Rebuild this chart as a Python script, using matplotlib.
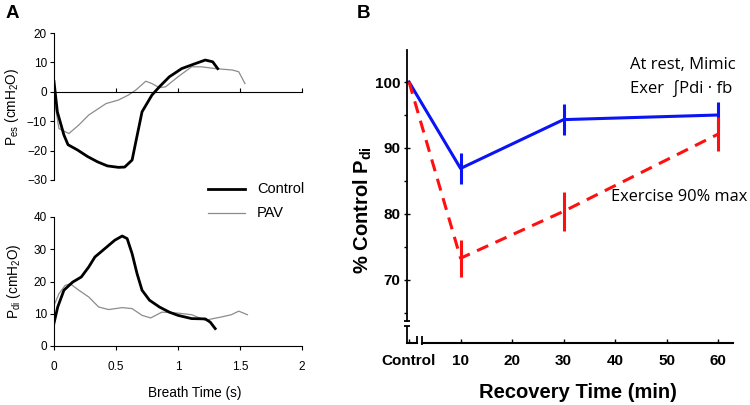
import matplotlib
matplotlib.use("Agg")
import matplotlib.pyplot as plt
from matplotlib.lines import Line2D
import numpy as np

# ---------------- Data ----------------
# Panel A, top: Pes (cmH2O) vs breath time (s)
pes_ctrl_t = [0.0, 0.027, 0.08, 0.113, 0.19, 0.27, 0.35, 0.43, 0.52, 0.57, 0.63, 0.66, 0.71, 0.79, 0.85, 0.93, 1.03, 1.14, 1.22, 1.28, 1.32]
pes_ctrl_v = [3.5, -6.8, -14.7, -18.0, -19.8, -22.0, -23.8, -25.2, -25.7, -25.6, -23.2, -17.0, -6.8, -1.1, 1.7, 5.1, 7.9, 9.6, 10.8, 10.2, 7.9]
pes_pav_t = [0.0, 0.04, 0.12, 0.2, 0.28, 0.42, 0.52, 0.6, 0.66, 0.74, 0.79, 0.85, 0.9, 1.0, 1.11, 1.19, 1.3, 1.44, 1.49, 1.54]
pes_pav_v = [-2.3, -12.5, -14.2, -11.3, -7.9, -4.0, -2.8, -1.1, 0.6, 3.6, 2.8, 1.4, 1.7, 5.1, 8.5, 8.5, 7.9, 7.4, 6.8, 2.8]

# Panel A, bottom: Pdi (cmH2O) vs breath time (s)
pdi_ctrl_t = [0.0, 0.03, 0.08, 0.15, 0.22, 0.28, 0.33, 0.41, 0.49, 0.55, 0.59, 0.63, 0.67, 0.71, 0.77, 0.85, 0.93, 1.0, 1.11, 1.22, 1.26, 1.3]
pdi_ctrl_v = [7.1, 12.1, 17.3, 19.8, 21.4, 24.5, 27.6, 30.2, 32.8, 34.1, 33.3, 28.6, 22.4, 17.3, 14.2, 12.1, 10.5, 9.5, 8.5, 8.4, 7.4, 5.4]
pdi_pav_t = [0.0, 0.04, 0.09, 0.13, 0.2, 0.28, 0.36, 0.44, 0.55, 0.63, 0.71, 0.78, 0.87, 1.0, 1.11, 1.22, 1.35, 1.43, 1.49, 1.56]
pdi_pav_v = [12.6, 16.2, 18.8, 19.3, 17.3, 15.2, 12.1, 11.3, 11.9, 11.6, 9.5, 8.7, 10.5, 10.2, 9.7, 8.0, 9.0, 9.7, 10.8, 9.7]

# Panel B: % control Pdi vs recovery time
rec_time = [0, 10, 30, 60]
rest_mean = [100.0, 86.9, 94.3, 95.0]
rest_err = [0.0, 2.3, 2.3, 2.0]
exer_mean = [100.0, 73.3, 80.4, 92.1]
exer_err = [0.0, 2.8, 3.0, 2.6]
b_xticks = [0, 10, 20, 30, 40, 50, 60]
b_xticklabels = ["Control", "10", "20", "30", "40", "50", "60"]
b_yticks = [70, 80, 90, 100]

# ---------------- Figure ----------------
W, H = 750, 405
fig = plt.figure(figsize=(7.5, 4.05), dpi=100)
plt.rcParams['font.family'] = ['Liberation Sans', 'DejaVu Sans']

def px(x0, y0, x1, y1):
    # pixel box (left, top, right, bottom) -> figure fraction rect
    return [x0 / W, 1 - y1 / H, (x1 - x0) / W, (y1 - y0) / H]

black = '#000000'
gray = '#8c8c8c'

# ---- Panel A top ----
axA1 = fig.add_axes(px(54, 33, 302, 180))
axA1.plot(pes_pav_t, pes_pav_v, color=gray, lw=0.9)
axA1.plot(pes_ctrl_t, pes_ctrl_v, color=black, lw=2.0)
axA1.set_xlim(0, 2)
axA1.set_ylim(-30, 20)
axA1.spines['top'].set_visible(False)
axA1.spines['right'].set_visible(False)
axA1.spines['bottom'].set_position(('data', 0))
axA1.spines['bottom'].set_linewidth(0.8)
axA1.spines['left'].set_linewidth(0.8)
axA1.set_xticks([0.5, 1.0, 1.5, 2.0])
axA1.tick_params(axis='x', direction='in', length=3, labelbottom=False)
axA1.set_yticks([-30, -20, -10, 0, 10, 20])
axA1.tick_params(axis='y', direction='out', length=3, labelsize=8.5, pad=2)
axA1.set_ylabel(r'P$_{\mathregular{es}}$ (cmH$_{\mathregular{2}}$O)', fontsize=9.8, labelpad=4)

# ---- Panel A bottom ----
axA2 = fig.add_axes(px(54, 217, 302, 346))
axA2.plot(pdi_pav_t, pdi_pav_v, color=gray, lw=0.9)
axA2.plot(pdi_ctrl_t, pdi_ctrl_v, color=black, lw=2.0)
axA2.set_xlim(0, 2)
axA2.set_ylim(0, 40)
axA2.spines['top'].set_visible(False)
axA2.spines['right'].set_visible(False)
axA2.spines['bottom'].set_linewidth(0.8)
axA2.spines['left'].set_linewidth(0.8)
axA2.set_xticks([0, 0.5, 1.0, 1.5, 2.0])
axA2.set_xticklabels(['0', '0.5', '1', '1.5', '2'])
axA2.set_yticks([0, 10, 20, 30, 40])
axA2.tick_params(direction='out', length=3, labelsize=8.5, pad=2)
axA2.tick_params(axis='x', pad=8)
axA2.set_ylabel(r'P$_{\mathregular{di}}$ (cmH$_{\mathregular{2}}$O)', fontsize=9.8, labelpad=8)
axA2.set_xlabel('Breath Time (s)', fontsize=9.8)
axA2.xaxis.set_label_coords((195 - 54) / 248, -(393 - 346) / 129 + 0.0)
axA2.xaxis.label.set_va('center')

# legend (figure coords)
fig.add_artist(Line2D([208 / W, 245 / W], [1 - 189 / H, 1 - 189 / H], color=black, lw=2.0))
fig.add_artist(Line2D([208 / W, 245 / W], [1 - 213 / H, 1 - 213 / H], color=gray, lw=0.9))
fig.text(257 / W, 1 - 189 / H, 'Control', fontsize=10.5, va='center', ha='left')
fig.text(257 / W, 1 - 213 / H, 'PAV', fontsize=10.5, va='center', ha='left')

fig.text(12 / W, 1 - 13 / H, 'A', fontsize=13.5, fontweight='bold', ha='center', va='center')
fig.text(364 / W, 1 - 13 / H, 'B', fontsize=13.5, fontweight='bold', ha='center', va='center')

# ---- Panel B ----
axB = fig.add_axes(px(407, 50, 733, 343))
ylo, yhi = 60.45, 104.85
xlo, xhi = -0.4, 62.9
axB.set_xlim(xlo, xhi)
axB.set_ylim(ylo, yhi)
for s in ['top', 'right']:
    axB.spines[s].set_visible(False)
axB.spines['left'].set_bounds(63.8, yhi)
axB.spines['left'].set_linewidth(1.3)
axB.spines['bottom'].set_bounds(2.5, xhi)
axB.spines['bottom'].set_linewidth(1.5)

# axis break pieces
kw = dict(color=black, lw=1.3, clip_on=False, solid_capstyle='butt')
axB.plot([xlo - 0.6, xlo + 0.6], [63.8, 63.8], **kw)
axB.plot([xlo - 0.6, xlo + 0.6], [63.0, 63.0], **kw)
axB.plot([xlo, xlo], [63.0, ylo], **kw)
axB.plot([xlo, 1.6], [ylo, ylo], color=black, lw=1.5, clip_on=False)
axB.plot([1.6, 1.6], [ylo, ylo + 1.0], **kw)
axB.plot([2.5, 2.5], [ylo - 0.3, ylo + 1.0], **kw)

blue = '#0a14f5'
red = '#ff1010'
axB.plot(rec_time, rest_mean, color=blue, lw=2.2, solid_joinstyle='round')
axB.errorbar(rec_time[1:], rest_mean[1:], yerr=rest_err[1:], fmt='none', ecolor=blue, elinewidth=2.2, capsize=0)
axB.plot(rec_time, exer_mean, color=red, lw=2.2, linestyle=(0, (4, 2.6)))
axB.errorbar(rec_time[1:], exer_mean[1:], yerr=exer_err[1:], fmt='none', ecolor=red, elinewidth=2.2, capsize=0)

axB.set_xticks(b_xticks)
axB.set_xticklabels(b_xticklabels)
axB.set_yticks(b_yticks)
axB.set_yticks([65, 75, 85, 95], minor=True)
axB.tick_params(axis='y', which='major', direction='inout', length=4, width=1.0, labelsize=11, pad=3)
axB.tick_params(axis='y', which='minor', direction='out', length=2, width=1.0)
axB.tick_params(axis='x', which='major', direction='in', length=3, width=1.0, labelsize=11, pad=8)
for lab in axB.get_xticklabels() + axB.get_yticklabels():
    lab.set_fontweight('bold')
axB.set_xlabel('Recovery Time (min)', fontsize=14.5, fontweight='bold')
axB.xaxis.set_label_coords((578 - 407) / 326, -(393 - 343) / 293)
axB.xaxis.label.set_va('center')
axB.set_ylabel(r'% Control P$_{\mathregular{di}}$', fontsize=14.5, fontweight='bold')
axB.yaxis.set_label_coords(-(407 - 363) / 326, (343 - 210) / 293)
axB.yaxis.label.set_va('center')

tfam = ['Open Sans', 'DejaVu Sans']
fig.text(630 / W, 1 - 65 / H, 'At rest, Mimic', fontsize=12, family=tfam, va='center', ha='left')
fig.text(630 / W, 1 - 88 / H, 'Exer  \u222bPdi \u00b7 fb', fontsize=12, family=tfam, va='center', ha='left')
fig.text(611 / W, 1 - 197 / H, 'Exercise 90% max', fontsize=11.8, family=tfam, va='center', ha='left')

fig.savefig('out.png', dpi=100)
